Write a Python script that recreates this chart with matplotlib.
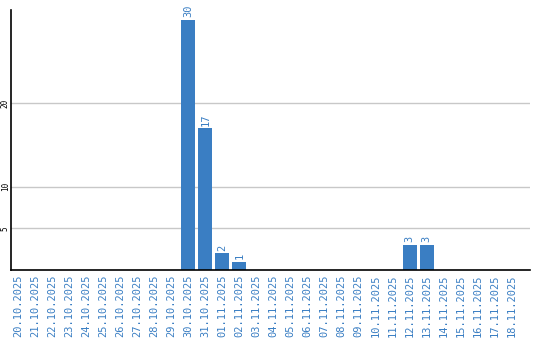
import matplotlib
matplotlib.use('Agg')
import matplotlib.pyplot as plt

dates = ['20.10.2025', '21.10.2025', '22.10.2025', '23.10.2025', '24.10.2025',
         '25.10.2025', '26.10.2025', '27.10.2025', '28.10.2025', '29.10.2025',
         '30.10.2025', '31.10.2025', '01.11.2025', '02.11.2025', '03.11.2025',
         '04.11.2025', '05.11.2025', '06.11.2025', '07.11.2025', '08.11.2025',
         '09.11.2025', '10.11.2025', '11.11.2025', '12.11.2025', '13.11.2025',
         '14.11.2025', '15.11.2025', '16.11.2025', '17.11.2025', '18.11.2025']
counts = [0, 0, 0, 0, 0, 0, 0, 0, 0, 0,
          30, 17, 2, 1, 0, 0, 0, 0, 0, 0,
          0, 0, 0, 3, 3, 0, 0, 0, 0, 0]
yticks = [5, 10, 20]

blue = '#3a7ec3'

fig = plt.figure(figsize=(5.4, 3.4), dpi=100)
ax = fig.add_axes([0.0204, 0.206, 0.9606, 0.765])

x = list(range(len(dates)))
ax.bar(x, counts, width=0.82, color=blue, zorder=2)

for xi, c in zip(x, counts):
    if c > 0:
        ax.text(xi, c + 0.3, str(c), rotation=90, ha='center', va='bottom',
                color=blue, fontsize=7.5, family='DejaVu Sans Mono')

ax.set_xlim(-0.41, 30.06)
ax.set_ylim(0, 31.2)
ax.set_xticks(x)
ax.set_xticklabels(dates, rotation=90, color=blue, fontsize=7.5, family='DejaVu Sans Mono')
ax.set_yticks(yticks)
ax.set_yticklabels([str(t) for t in yticks], rotation=90, fontsize=5.5,
                   family='DejaVu Sans Mono', va='center', ha='right')
ax.tick_params(axis='x', length=0, pad=3)
ax.tick_params(axis='y', length=0, pad=1)
ax.grid(axis='y', color='#c8c8c8', linewidth=1, zorder=0)

for s in ['top', 'right']:
    ax.spines[s].set_visible(False)
ax.spines['left'].set_linewidth(1.2)
ax.spines['bottom'].set_linewidth(1.2)

fig.savefig('out.png', dpi=100)
